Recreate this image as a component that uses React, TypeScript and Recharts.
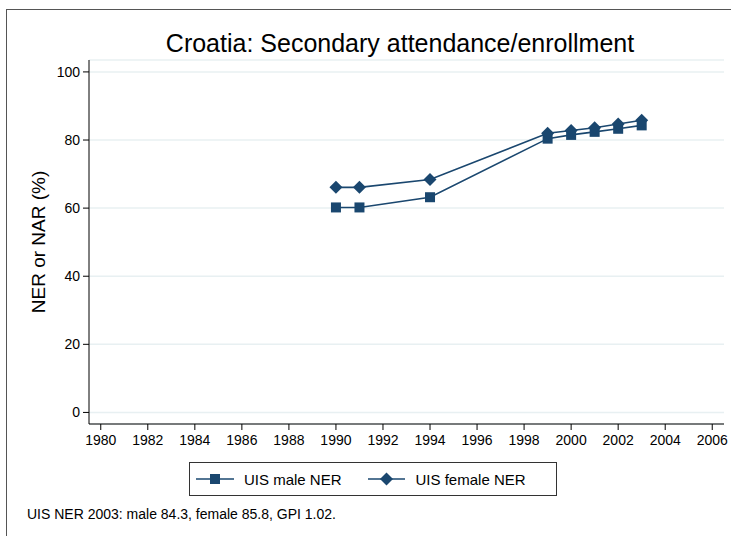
import { LineChart, Line, XAxis, YAxis, CartesianGrid } from "recharts";

const years = [1990, 1991, 1994, 1999, 2000, 2001, 2002, 2003];
const maleNER = [60.2, 60.2, 63.2, 80.4, 81.5, 82.4, 83.3, 84.3];
const femaleNER = [66.1, 66.1, 68.4, 82.0, 82.8, 83.6, 84.7, 85.8];
const xTicks = [1980, 1982, 1984, 1986, 1988, 1990, 1992, 1994, 1996, 1998, 2000, 2002, 2004, 2006];
const yTicks = [0, 20, 40, 60, 80, 100];

const data = years.map((year, i) => ({ year, male: maleNER[i], female: femaleNER[i] }));

const BLUE = "#1a476f";
const FONT = "'Liberation Sans', Arial, sans-serif";

const SquareDot = (props: any) => {
  const { cx, cy } = props;
  if (cx == null || cy == null) return null;
  return <rect x={cx - 5} y={cy - 5} width={10} height={10} fill={BLUE} />;
};

const DiamondDot = (props: any) => {
  const { cx, cy } = props;
  if (cx == null || cy == null) return null;
  const r = 6.5;
  return <polygon points={`${cx},${cy - r} ${cx + r},${cy} ${cx},${cy + r} ${cx - r},${cy}`} fill={BLUE} />;
};

export default function App() {
  return (
    <div style={{ position: "absolute", left: 0, top: 0, width: 731, height: 536, background: "#fff", fontFamily: FONT, overflow: "hidden" }}>
      {/* outer frame */}
      <div style={{ position: "absolute", left: 6, top: 9, width: 740, height: 540, border: "1px solid #555" }} />
      <div style={{ position: "absolute", left: 80, width: 640, top: 29, textAlign: "center", fontSize: 25, lineHeight: "28px", color: "#000" }}>
        Croatia: Secondary attendance/enrollment
      </div>
      <LineChart width={731} height={536} data={data} margin={{ top: 60, right: 7, bottom: 82, left: 29 }}>
        <CartesianGrid horizontal={true} vertical={false} stroke="#e8f0f2" strokeWidth={1.5} />
        <XAxis
          dataKey="year"
          type="number"
          domain={[1979.5, 2006.5]}
          ticks={xTicks}
          interval={0}
          stroke="#000"
          tickSize={6}
          height={30}
          tick={{ fill: "#000", fontSize: 14, fontFamily: FONT }}
          tickMargin={5}
        />
        <YAxis
          type="number"
          domain={[-3.4, 103.5]}
          ticks={yTicks}
          allowDataOverflow
          stroke="#000"
          tickSize={6}
          width={60}
          tick={{ fill: "#000", fontSize: 14, fontFamily: FONT }}
          tickMargin={3}
          label={{ value: "NER or NAR (%)", angle: -90, position: "insideLeft", offset: 0, dx: 9, style: { textAnchor: "middle", fontSize: 19, fill: "#000", fontFamily: FONT } }}
        />
        <Line dataKey="male" stroke={BLUE} strokeWidth={1.6} dot={<SquareDot />} activeDot={false} isAnimationActive={false} />
        <Line dataKey="female" stroke={BLUE} strokeWidth={1.6} dot={<DiamondDot />} activeDot={false} isAnimationActive={false} />
      </LineChart>
      {/* legend */}
      <div style={{ position: "absolute", left: 189, top: 462, width: 366, height: 32, border: "1px solid #333", display: "flex", alignItems: "center", fontSize: 15, color: "#000" }}>
        <svg width={40} height={14} style={{ marginLeft: 6 }}>
          <line x1={0} y1={7} x2={38} y2={7} stroke={BLUE} strokeWidth={1.6} />
          <rect x={14} y={2} width={10} height={10} fill={BLUE} />
        </svg>
        <span style={{ marginLeft: 8 }}>UIS male NER</span>
        <svg width={40} height={14} style={{ marginLeft: 26 }}>
          <line x1={0} y1={7} x2={37} y2={7} stroke={BLUE} strokeWidth={1.6} />
          <polygon points="18.5,0.5 25,7 18.5,13.5 12,7" fill={BLUE} />
        </svg>
        <span style={{ marginLeft: 8 }}>UIS female NER</span>
      </div>
      <div style={{ position: "absolute", left: 27, top: 505, fontSize: 14, lineHeight: "18px", color: "#000" }}>
        UIS NER 2003: male 84.3, female 85.8, GPI 1.02.
      </div>
    </div>
  );
}
